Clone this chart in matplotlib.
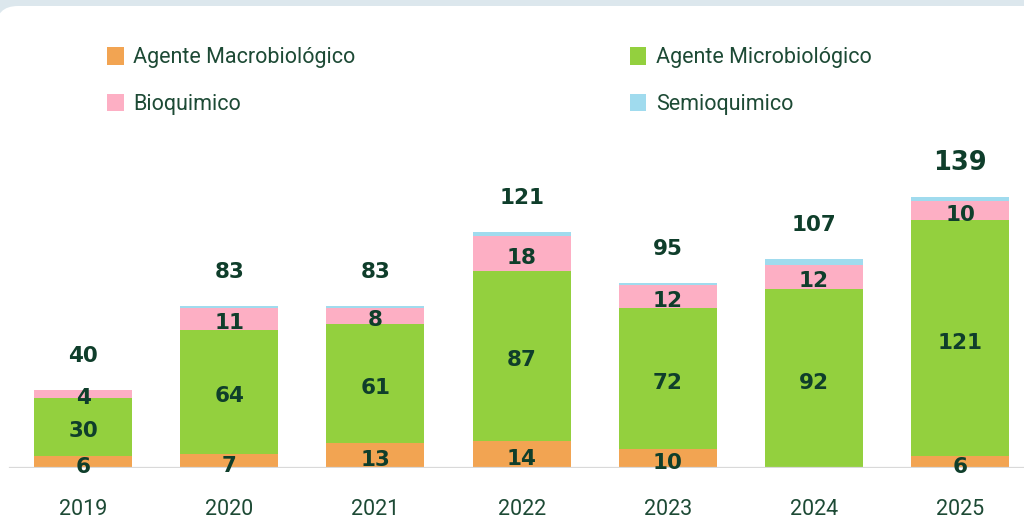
import matplotlib.pyplot as plt
import numpy as np
from matplotlib.patches import FancyBboxPatch
from matplotlib.transforms import IdentityTransform

years = ['2019', '2020', '2021', '2022', '2023', '2024', '2025']
macro = [6, 7, 13, 14, 10, 0, 6]
micro = [30, 64, 61, 87, 72, 92, 121]
bio = [4, 11, 8, 18, 12, 12, 10]
semio = [0, 1, 1, 2, 1, 3, 2]
totals = [40, 83, 83, 121, 95, 107, 139]

names = ['Agente Macrobiológico', 'Agente Microbiológico', 'Bioquimico', 'Semioquimico']
colors = ['#f2a452', '#93d03e', '#fdafc4', '#a0dbee']
txt_dark = '#0f3e2b'
txt_mid = '#1d4a35'

fig = plt.figure(figsize=(10.24, 5.2), dpi=100)
fig.patch.set_facecolor('#dce7ed')

# white card with rounded corner, drawn in pixel coords
card = FancyBboxPatch((-4, -60), 1100, 520 - 6 + 60,
                      boxstyle='round,pad=0,rounding_size=22',
                      transform=IdentityTransform(),
                      facecolor='white', edgecolor='none', zorder=0)
fig.add_artist(card)

ax = fig.add_axes([0, 0.1, 1, 0.9])
ax.set_facecolor('none')
ax.set_xlim(-0.568, 6.436)
ax.set_ylim(0, 240)

x = np.arange(len(years))
series = [macro, micro, bio, semio]
bottom = np.zeros(len(years))
handles = []
for k, vals in enumerate(series):
    vals = np.array(vals, dtype=float)
    b = ax.bar(x, vals, 0.67, bottom=bottom, color=colors[k], zorder=2)
    handles.append(b)
    if k < 3:
        for i, v in enumerate(vals):
            if v > 0:
                ax.annotate(f'{int(v)}', (x[i], bottom[i] + v / 2),
                            xytext=(0, -3.2), textcoords='offset points',
                            ha='center', va='center', fontsize=15.5,
                            fontweight='bold', color=txt_dark, zorder=4)
    bottom += vals

for i, t in enumerate(totals):
    fs = 18.5 if i == len(totals) - 1 else 15.5
    ax.annotate(f'{t}', (x[i], bottom[i]), xytext=(0, 24.5),
                textcoords='offset points', ha='center', va='center',
                fontsize=fs, fontweight='bold', color=txt_dark)

ax.axhline(0, xmin=10 / 1024, xmax=1, color='#d9d9d9', lw=1.6, zorder=3)

ax.set_xticks(x)
ax.set_xticklabels(years, fontsize=15.5, color=txt_mid, family='Roboto')
ax.tick_params(axis='x', length=0, pad=22.5)
ax.set_yticks([])
for s in ax.spines.values():
    s.set_visible(False)

leg = fig.legend([handles[0], handles[2], handles[1], handles[3]],
                 [names[0], names[2], names[1], names[3]],
                 ncol=2, loc='upper left', bbox_to_anchor=(0.086, 0.946),
                 frameon=False, handlelength=0.75, handleheight=0.85,
                 handletextpad=0.45, columnspacing=12.75, labelspacing=1.2,
                 prop={'family': 'Roboto', 'size': 15.5})
for t in leg.get_texts():
    t.set_color(txt_mid)

fig.savefig('out.png', dpi=100, facecolor=fig.get_facecolor())
